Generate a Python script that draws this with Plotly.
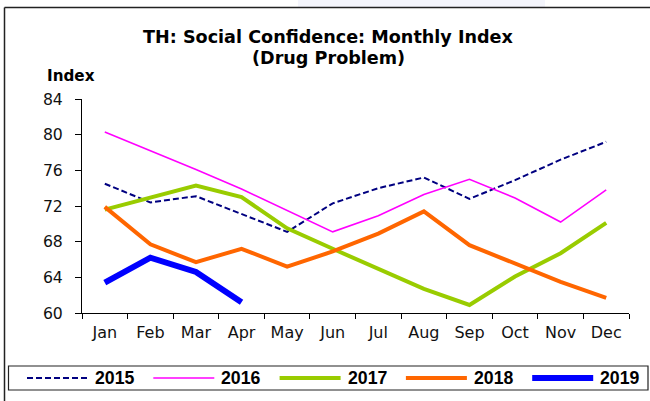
import plotly.graph_objects as go

# ---- data ----
months = ["Jan", "Feb", "Mar", "Apr", "May", "Jun", "Jul", "Aug", "Sep", "Oct", "Nov", "Dec"]
years = ["2015", "2016", "2017", "2018", "2019"]
v2015 = [74.5, 72.4, 73.1, 71.1, 69.1, 72.3, 74.0, 75.2, 72.8, 74.9, 77.2, 79.2]
v2016 = [80.3, 78.2, 76.1, 73.9, 71.5, 69.1, 70.9, 73.3, 75.0, 72.9, 70.2, 73.8]
v2017 = [71.6, 73.0, 74.3, 73.0, 69.5, 67.2, 64.9, 62.7, 60.9, 64.1, 66.7, 70.1]
v2018 = [71.9, 67.7, 65.7, 67.2, 65.2, 66.9, 68.9, 71.4, 67.6, 65.6, 63.5, 61.7]
v2019 = [63.4, 66.2, 64.6, 61.2]
y_ticks = [60, 64, 68, 72, 76, 80, 84]

series = [v2015, v2016, v2017, v2018, v2019]

# ---- styles ----
colors = ["#000080", "#FF00FF", "#99CC00", "#FF6600", "#0000FF"]
widths = [2, 1.6, 4, 4, 6]
dashes = ["6px,3px", "solid", "solid", "solid", "solid"]

W, H = 650, 401
FONT = "Liberation Sans, Arial, sans-serif"
WIDE = "DejaVu Sans, sans-serif"


def px_x(p):
    return p / W


def px_y(p):
    return 1 - p / H


fig = go.Figure()
for name, vals, c, w, d in zip(years, series, colors, widths, dashes):
    fig.add_trace(go.Scatter(
        x=months[:len(vals)], y=vals, mode="lines", name=name,
        line=dict(color=c, width=w, dash=d),
        showlegend=False, hoverinfo="x+y+name"))

fig.update_layout(
    width=W, height=H,
    margin=dict(l=0, r=0, t=0, b=0),
    paper_bgcolor="white", plot_bgcolor="white",
    font=dict(family=FONT, color="black", size=17),
    xaxis=dict(
        domain=[px_x(82), px_x(629)], automargin=False,
        type="category", categoryorder="array", categoryarray=months,
        range=[-0.5, 11.5],
        showline=True, linecolor="black", linewidth=1,
        ticks="outside", tickson="boundaries", ticklen=5, tickcolor="black",
        showgrid=False, zeroline=False,
        tickfont=dict(size=16, family=WIDE, color="#111111"),
        ticklabelstandoff=5,
    ),
    yaxis=dict(
        domain=[1 - 313 / H, 1 - 99 / H], automargin=False,
        range=[60, 84], tickvals=y_ticks,
        showline=True, linecolor="black", linewidth=1,
        ticks="outside", ticklen=6, tickcolor="black",
        showgrid=False, zeroline=False,
        tickfont=dict(size=15.7, family=WIDE, color="#111111"),
        ticklabelstandoff=9,
    ),
)

shapes = []
annotations = []

# faint watermark at the top
shapes.append(dict(type="rect", xref="paper", yref="paper",
                   x0=px_x(298), x1=px_x(545), y0=px_y(7), y1=px_y(0),
                   fillcolor="#F4F5FC", line=dict(width=0), layer="below"))
# outer frame (left and top edges visible)
shapes.append(dict(type="line", xref="paper", yref="paper",
                   x0=px_x(4.5), x1=px_x(4.5), y0=px_y(7.5), y1=0,
                   line=dict(color="#222222", width=1.5)))
shapes.append(dict(type="line", xref="paper", yref="paper",
                   x0=px_x(4.5), x1=1, y0=px_y(7.5), y1=px_y(7.5),
                   line=dict(color="#222222", width=1.5)))

# title
annotations.append(dict(text="<b>TH: Social Confidence: Monthly Index</b>",
                        xref="paper", yref="paper", x=px_x(328.5), y=px_y(36.5),
                        xanchor="center", yanchor="middle", showarrow=False,
                        font=dict(size=17.6, family=WIDE, color="black")))
annotations.append(dict(text="<b>(Drug Problem)</b>",
                        xref="paper", yref="paper", x=px_x(328.5), y=px_y(58.5),
                        xanchor="center", yanchor="middle", showarrow=False,
                        font=dict(size=17.6, family=WIDE, color="black")))
# axis title
annotations.append(dict(text="<b>Index</b>", xref="paper", yref="paper",
                        x=px_x(71), y=px_y(76.5), xanchor="center", yanchor="middle",
                        showarrow=False, font=dict(size=15.2, family=WIDE, color="black")))

# legend box
shapes.append(dict(type="rect", xref="paper", yref="paper",
                   x0=px_x(8.5), x1=px_x(648), y0=px_y(390), y1=px_y(366),
                   line=dict(color="#222222", width=1.2), fillcolor="rgba(0,0,0,0)"))
leg_y = px_y(378)
for i, (name, c, w, d) in enumerate(zip(years, colors, widths, dashes)):
    x0 = 27 + 126.3 * i
    x1 = x0 + 61
    shapes.append(dict(type="line", xref="paper", yref="paper",
                       x0=px_x(x0), x1=px_x(x1), y0=leg_y, y1=leg_y,
                       line=dict(color=c, width=w, dash=d)))
    annotations.append(dict(text="<b>" + name + "</b>", xref="paper", yref="paper",
                            x=px_x(x1 + 5), y=leg_y, xanchor="left", yanchor="middle",
                            showarrow=False,
                            font=dict(size=17.7, family=FONT, color="black")))

fig.update_layout(shapes=shapes, annotations=annotations)
fig.write_html("out.html", config={"displayModeBar": False},
               post_script="document.body.style.margin='0';document.body.style.overflow='hidden';")
